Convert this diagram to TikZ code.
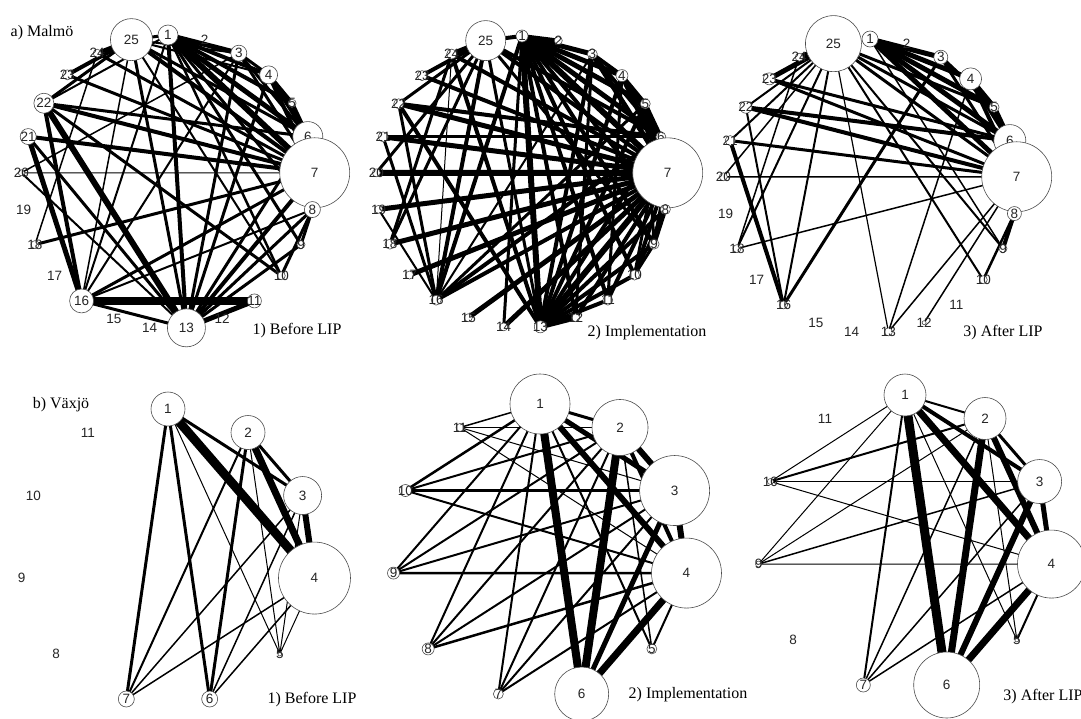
\documentclass[tikz,border=0pt]{standalone}
\usepackage{fontspec}
\setmainfont{Liberation Serif}
\setsansfont{Liberation Sans}
\usetikzlibrary{backgrounds}
\newcommand\placenodes[6]{%
  \foreach \k/\r in {#6}{%
    \pgfmathsetmacro\ang{90-(\k-1)*360/#5}%
    \pgfmathsetmacro\px{#2+#4*cos(\ang)}%
    \pgfmathsetmacro\py{#3-#4*sin(\ang)}%
    \ifdim\r pt=0pt\relax
      \node[lbl] (#1\k) at (\px,\py) {\k};%
    \else
      \node[nd,minimum size={2*\r pt},label={[lbl]center:\k}] (#1\k) at (\px,\py) {};%
    \fi
  }}
\newcommand\drawedges[2]{%
  \foreach \a/\b/\w in {#2}{\draw[ed,line width=\w pt] (#1\a.center) -- (#1\b.center);}}
\begin{document}
\begin{tikzpicture}[x=1pt,y=-1pt,
  nd/.style={circle,draw=black!70,line width=0.6pt,fill=white,inner sep=0pt},
  lbl/.style={font=\sffamily\fontsize{13.5}{15}\selectfont,text=black!85,inner sep=0pt},
  ttl/.style={font=\fontsize{16}{18}\selectfont,inner sep=0pt},
  ed/.style={draw=black}]
\useasboundingbox (0,0) rectangle (1081,718);

% ---------- a) Malmo, 1) Before LIP ----------
\placenodes{A}{168}{182}{147}{25}{1/10,2/0,3/8,4/9,5/4,6/15,7/35,8/8,9/4,10/4,11/7,12/0,13/19,14/0,15/0,16/12,17/0,18/4,19/0,20/3,21/8,22/10,23/5,24/4,25/21}
% ---------- 2) Implementation ----------
\placenodes{B}{522}{182}{146}{25}{1/6,2/4,3/5,4/6,5/5,6/5,7/35,8/5,9/5,10/5,11/5,12/4,13/6,14/4,15/4,16/5,17/4,18/5,19/4,20/4,21/5,22/5,23/5,24/5,25/20}
% ---------- 3) After LIP ----------
\placenodes{C}{870}{186}{147}{25}{1/8,2/0,3/7,4/11,5/5,6/16,7/35,8/7,9/4,10/4,11/0,12/2,13/4,14/0,15/0,16/4,17/0,18/4,19/0,20/4,21/5,22/6,23/6,24/4,25/28}
% ---------- b) Vaxjo ----------
\placenodes{D}{168}{557}{148}{11}{1/17,2/17,3/19,4/36,5/2,6/8,7/8,8/0,9/0,10/0,11/0}
\placenodes{E}{540}{552}{148}{11}{1/30,2/28,3/35,4/35,5/5,6/27,7/5,8/6,9/6,10/6,11/4}
\placenodes{F}{905}{543}{148}{11}{1/21,2/21,3/22,4/34,5/2,6/33,7/7,8/0,9/3,10/3,11/0}

\begin{pgfonlayer}{background}
\fill[white] (0,0) rectangle (1081,718);
\drawedges{A}{25/24/4,25/23/4,25/22/3,25/7/4,25/6/3,25/13/3,25/16/1.5,25/10/2,25/4/2,25/3/2,25/1/3,
1/3/5,1/4/4,1/5/4,1/6/5,1/7/6,1/8/3,1/9/3,1/10/2.5,1/13/4,1/16/2,1/22/2,
3/4/3,3/13/3,3/16/2,3/7/3,3/6/3,4/5/4,4/6/4,4/7/4,4/13/3,5/6/4,5/7/3,6/7/4,
7/22/4,7/21/4,7/20/1,7/18/3,7/13/4,7/16/3,7/23/3,7/24/3,
8/9/3,8/10/3,8/13/3,8/16/2,22/16/4,22/13/6,22/6/3,22/10/3,21/16/5,21/13/3,
20/13/2,20/3/1.5,18/24/1.5,16/11/8,16/13/3,13/11/5,13/9/3,13/6/3}
\drawedges{B}{7/20/6,7/21/5,7/22/5,7/19/5,7/18/5,7/17/5,7/16/4,7/15/5,7/14/5,7/13/6,7/12/4,7/11/4,7/10/4,7/9/4,7/8/5,7/6/5,7/5/5,7/4/5,7/3/5,7/1/6,7/25/4,7/23/4,7/24/4,
1/2/4,1/3/5,1/4/5,1/5/5,1/6/5,1/8/4,1/9/4,1/10/4,1/11/4,1/12/4,1/13/6,1/16/4,1/25/4,1/14/3,
25/24/5,25/23/4,25/22/3,25/20/3,25/16/4,25/13/3,25/18/3,25/6/4,25/9/3,
22/16/3,22/13/4,22/6/4,21/16/3,21/6/3,16/6/4,16/5/3,16/19/2,16/3/2,16/24/1,
13/3/4,13/4/4,13/5/4,13/6/4,13/8/4,13/9/4,13/10/4,13/11/4,13/12/5,13/24/4,
3/4/4,4/5/4,5/6/4,3/6/4,4/6/4,6/8/4,8/9/4,8/10/3,9/10/3,6/10/3,5/9/3,4/11/3,12/3/3,18/24/3}
\drawedges{C}{25/24/5,25/23/5,25/22/2,25/21/2,25/20/1.5,25/18/2,25/16/2,25/13/1.2,25/10/2,25/9/2,25/7/3,25/6/3,25/5/3,
1/3/5,1/4/5,1/5/5,1/6/5,1/7/5,1/9/1.5,3/5/4,3/7/3,4/5/5,4/6/5,5/6/5,4/7/4,
22/7/4,22/6/4,23/7/3,23/6/3,21/7/3,20/7/1.5,18/7/1.5,21/16/4,22/16/2,16/3/3,
13/4/1.5,13/7/1.5,12/7/1.5,10/8/2.5,9/8/4,18/24/1.5}
\drawedges{D}{1/4/9,1/3/3,1/7/3,1/6/3,1/5/1,2/4/7,2/3/3,2/7/2,2/6/3,2/5/1,
3/4/6,3/7/1.5,3/6/1.5,3/5/1,4/7/1.5,4/6/1.5,4/5/1}
\drawedges{E}{1/2/3,1/3/5,1/4/6,1/6/8,1/11/1.5,1/10/2.5,1/9/2,1/8/2,1/7/2,1/5/2,
2/3/6,2/4/4,2/6/8,2/10/2,2/9/2,2/8/2,2/11/1,2/7/2,2/5/1.5,
3/4/6,3/6/5,3/10/2.5,3/9/2,3/8/2,3/7/2,3/11/1,
4/6/7,4/9/2.5,4/8/2.5,4/7/2,4/10/2,4/5/2,4/11/1}
\drawedges{F}{1/6/9,1/4/7,1/3/4,1/10/1,1/9/1,1/7/2,1/5/1,1/2/2,
2/6/7,2/4/6,2/3/3,2/10/2,2/9/1,2/7/1.5,2/5/1,
3/6/6,3/4/5,3/9/1.5,3/7/1.5,3/10/1,
4/6/7,4/10/1,4/9/1,4/7/1.5,4/5/2}
\end{pgfonlayer}

\node[ttl] (ta) at (42,33) {a) Malmö};
\node[ttl] (t1) at (297,331) {1) Before LIP};
\node[ttl] (t2) at (647,333) {2) Implementation};
\node[ttl] (t3) at (1003,333) {3) After LIP};
\node[ttl] (tb) at (61,405) {b) Växjö};
\node[ttl] (t4) at (312,700) {1) Before LIP};
\node[ttl] (t5) at (688,695) {2) Implementation};
\node[ttl] (t6) at (1043,697) {3) After LIP};
\end{tikzpicture}
\end{document}
